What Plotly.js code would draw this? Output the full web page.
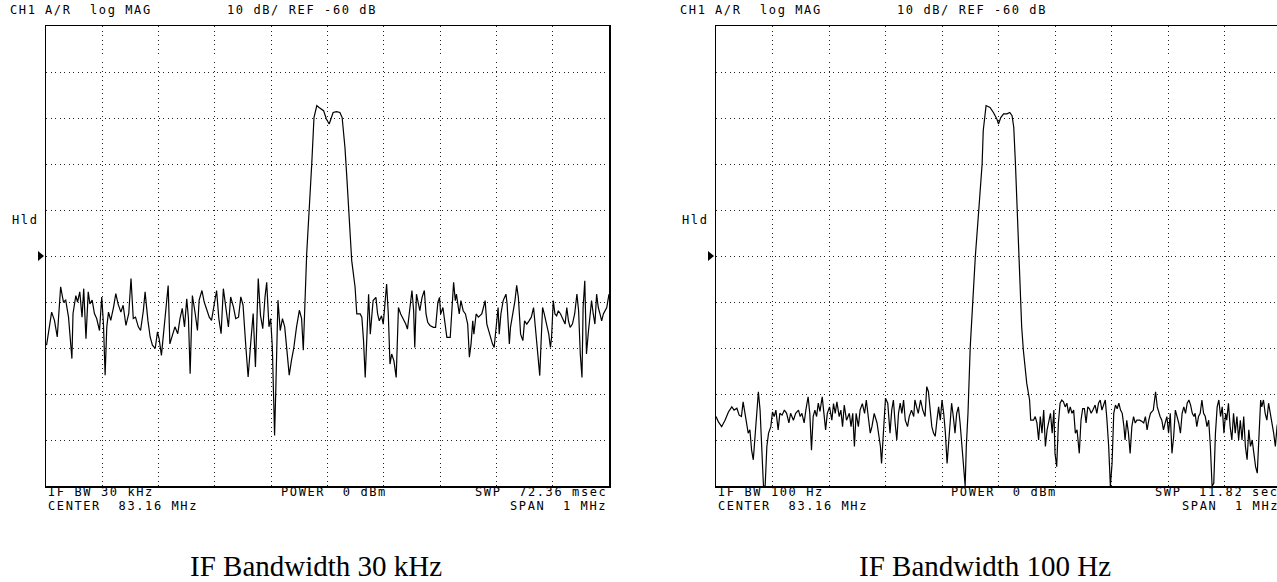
<!DOCTYPE html>
<html>
<head>
<meta charset="utf-8">
<script src="https://cdn.plot.ly/plotly-3.0.1.min.js"></script>
<style>
  html, body { margin: 0; padding: 0; overflow: hidden; background: #fff; }
  #chart { width: 1290px; height: 582px; }
  text.annotation-text[style*="Mono"] { letter-spacing: 1.6px; }
</style>
</head>
<body>
<div id="chart"></div>
<script>
// ---------- data (offset from 83.16 MHz centre, kHz ; magnitude dB) ----------
const freqA = [
  -499,-496,-490,-485,-480,-474,-469,-465,-460,-454,
  -452,-447,-444,-440,-436,-433,-429,-425,-422,-418,
  -414,-410,-405,-401,-398,-395,-392,-389,-385,-380,
  -376,-372,-367,-363,-358,-353,-349,-345,-341,-336,
  -332,-327,-324,-319,-315,-311,-306,-302,-299,-295,
  -291,-287,-283,-280,-276,-271,-266,-262,-258,-254,
  -250,-247,-244,-240,-235,-231,-228,-223,-219,-215,
  -210,-206,-202,-197,-193,-189,-185,-181,-176,-172,
  -167,-163,-158,-154,-150,-145,-141,-136,-132,-128,
  -123,-119,-115,-111,-108,-104,-101,-98,-94,-92,
  -88,-84,-80,-76,-71,-68,-64,-60,-55,-50,
  -46,-43,-37,-33,-28,-24,-19,-15,-7,-2,
  3,7,10,16,22,26,31,34,37,40,
  43,46,49,52,58,61,64,67,70,73,
  76,79,81,86,89,92,96,99,102,105,
  108,111,114,118,122,126,130,135,139,142,
  147,150,153,155,158,161,164,168,172,175,
  178,182,188,192,196,199,201,205,208,212,
  218,221,224,227,229,234,237,241,245,249,
  252,255,258,260,264,268,271,274,277,280,
  283,286,289,293,296,301,303,305,308,312,
  317,319,323,325,329,333,336,339,343,347,
  350,354,358,362,366,369,372,375,377,379,
  382,385,389,393,396,398,401,404,407,410,
  414,419,422,425,428,431,435,439,443,446,
  449,452,454,457,460,463,466,469,472,475,
  478,481,484,487,490,493,496,500
];
const magA = [
  -79.4,-76.9,-72.2,-74.0,-77.6,-66.7,-70.0,-69.6,-73.3,-82.3,
  -72.5,-68.6,-70.0,-67.8,-73.3,-67.1,-78.0,-67.8,-70.4,-69.6,
  -72.5,-73.6,-76.2,-68.9,-74.7,-85.9,-75.4,-72.2,-74.0,-71.1,
  -68.2,-70.4,-72.2,-70.7,-75.1,-72.5,-64.9,-73.6,-73.3,-75.4,
  -76.2,-71.8,-67.8,-74.0,-77.6,-79.4,-80.1,-76.5,-78.0,-81.6,
  -76.2,-70.7,-66.4,-79.1,-77.6,-75.4,-76.9,-73.6,-71.4,-75.4,
  -69.3,-73.6,-85.6,-68.6,-72.5,-76.2,-69.6,-67.5,-70.0,-71.4,
  -73.3,-74.0,-71.4,-67.5,-73.6,-76.9,-67.1,-70.7,-75.4,-68.9,
  -71.1,-73.6,-73.3,-68.9,-70.7,-79.8,-86.3,-78.3,-72.5,-84.1,
  -64.9,-72.9,-75.8,-68.9,-65.7,-75.4,-73.6,-79.8,-99.0,-89.9,
  -69.6,-76.2,-73.6,-75.4,-82.0,-85.9,-82.7,-80.1,-75.4,-71.8,
  -73.6,-80.5,-59.6,-49.4,-40.0,-29.9,-27.3,-27.7,-28.4,-30.2,
  -31.3,-29.9,-28.8,-28.6,-28.8,-29.9,-36.4,-42.2,-48.0,-53.8,
  -61.0,-63.9,-66.8,-72.6,-72.6,-73.3,-78.4,-86.4,-75.5,-68.3,
  -77.0,-71.2,-69.7,-69.0,-72.6,-74.1,-73.0,-74.8,-70.4,-66.1,
  -72.6,-83.5,-81.3,-82.8,-86.4,-71.2,-72.6,-73.7,-74.8,-75.9,
  -71.2,-67.5,-71.9,-79.9,-68.3,-70.4,-71.9,-69.0,-67.5,-72.6,
  -74.4,-75.1,-75.5,-75.5,-70.1,-69.0,-72.6,-71.2,-74.1,-77.7,
  -77.7,-72.6,-65.7,-69.7,-68.3,-72.6,-69.7,-71.9,-72.6,-74.8,
  -82.0,-79.1,-74.1,-77.0,-72.6,-73.3,-73.0,-72.6,-71.2,-69.7,
  -74.8,-76.2,-77.7,-79.1,-79.9,-72.6,-71.2,-77.0,-72.6,-69.7,
  -68.3,-70.4,-79.1,-75.5,-72.6,-69.7,-66.4,-69.0,-77.0,-78.4,
  -74.1,-74.8,-74.1,-73.3,-71.2,-75.5,-79.9,-84.2,-86.0,-79.9,
  -71.2,-72.6,-74.8,-77.0,-79.9,-77.7,-69.7,-72.6,-73.0,-71.9,
  -72.6,-74.1,-74.8,-71.2,-74.1,-75.5,-74.8,-72.6,-68.3,-71.9,
  -81.3,-86.4,-71.2,-65.4,-81.3,-77.0,-72.6,-69.7,-72.6,-74.8,
  -68.3,-71.2,-72.6,-74.1,-72.6,-71.9,-71.2,-68.3
];
const freqB = [
  -500,-496,-490,-484,-478,-472,-468,-463,-459,-455,
  -452,-449,-446,-443,-440,-437,-434,-431,-428,-425,
  -422,-419,-416,-413,-410,-407,-403,-400,-397,-394,
  -390,-387,-383,-379,-375,-371,-368,-363,-359,-354,
  -351,-348,-344,-341,-337,-334,-331,-328,-325,-322,
  -319,-316,-312,-309,-306,-303,-299,-295,-292,-289,
  -286,-282,-279,-276,-273,-269,-264,-261,-258,-255,
  -252,-248,-245,-241,-237,-234,-230,-227,-224,-220,
  -215,-212,-209,-207,-204,-200,-196,-192,-189,-186,
  -183,-180,-177,-174,-171,-168,-165,-161,-158,-154,
  -150,-148,-145,-142,-138,-134,-130,-127,-124,-121,
  -118,-115,-112,-109,-106,-103,-100,-97,-94,-91,
  -89,-86,-83,-80,-77,-74,-71,-68,-65,-62,
  -59,-57,-54,-50,-45,-41,-35,-29,-27,-23,
  -22,-15,-9,-3,0,4,9,15,20,24,
  27,30,33,36,38,41,44,47,50,55,
  57,62,65,68,71,74,77,80,83,86,
  89,92,95,98,100,103,106,109,112,115,
  118,121,124,127,130,133,136,139,143,146,
  149,152,155,158,161,164,167,171,174,177,
  180,183,186,189,192,195,198,201,204,207,
  210,213,216,219,222,224,227,230,233,236,
  239,242,245,250,254,257,260,263,266,269,
  274,278,281,284,286,289,292,295,298,301,
  304,307,310,313,316,319,322,325,328,331,
  334,337,340,343,346,348,351,354,357,360,
  363,366,369,372,375,378,381,384,387,390,
  393,396,399,402,404,407,410,413,416,419,
  422,425,428,431,434,437,440,443,446,449,
  452,455,458,461,464,466,469,472,475,478,
  481,484,487,490,493,496,500
];
const magB = [
  -94.9,-96.0,-97.1,-95.7,-93.9,-92.8,-93.5,-93.1,-94.6,-94.9,
  -91.7,-94.2,-97.1,-98.5,-97.8,-102.2,-104.3,-99.3,-94.2,-89.5,
  -93.5,-101.4,-110,-110,-101.4,-98.5,-97.1,-93.9,-94.9,-93.5,
  -97.8,-94.2,-94.6,-93.5,-94.2,-96.3,-94.2,-95.7,-94.2,-93.5,
  -94.9,-94.2,-96.3,-93.5,-90.6,-94.2,-102.2,-94.9,-93.5,-94.9,
  -92.0,-93.8,-90.6,-94.2,-97.8,-94.2,-92.8,-95.7,-92.1,-94.2,
  -91.7,-94.9,-93.5,-97.1,-92.4,-95.7,-94.2,-97.1,-94.2,-101.4,
  -94.2,-97.1,-93.5,-92.1,-94.2,-91.3,-94.9,-98.5,-97.1,-94.2,
  -96.3,-98.5,-101.4,-105.1,-97.8,-90.9,-92.0,-98.5,-93.5,-91.3,
  -96.3,-100.0,-94.2,-92.0,-94.2,-91.3,-95.7,-97.1,-94.9,-93.5,
  -94.9,-91.3,-92.8,-94.2,-91.3,-93.5,-94.9,-88.4,-89.5,-94.2,
  -97.1,-98.5,-99.2,-95.7,-92.8,-95.7,-91.3,-94.2,-98.5,-105.1,
  -101.4,-97.1,-92.0,-94.9,-98.5,-94.2,-92.8,-96.3,-101.4,-105.8,
  -110,-101.4,-94.2,-79.7,-68.9,-60.1,-50.1,-40.0,-32.7,-27.7,
  -27.3,-27.7,-28.8,-30.2,-31.3,-29.9,-29.1,-29.1,-28.8,-29.5,
  -32.0,-40.0,-49.4,-58.1,-68.2,-75.4,-80.5,-84.1,-87.7,-91.3,
  -95.7,-95.7,-94.9,-96.3,-100.0,-94.9,-98.5,-93.5,-101.4,-97.8,
  -96.3,-94.2,-98.5,-93.5,-102.9,-105.8,-96.3,-92.0,-91.3,-91.7,
  -92.8,-92.0,-94.2,-92.8,-94.2,-93.5,-98.5,-97.8,-102.9,-95.7,
  -93.2,-93.2,-96.3,-92.8,-93.2,-94.2,-93.5,-92.4,-94.2,-92.0,
  -91.3,-93.5,-92.4,-91.3,-95.7,-101.4,-110,-105.1,-94.2,-92.4,
  -93.2,-92.0,-93.5,-94.2,-97.1,-100.0,-95.7,-98.5,-102.9,-97.1,
  -94.9,-96.3,-95.7,-95.7,-96.0,-96.3,-94.9,-97.8,-95.7,-94.2,
  -93.5,-89.5,-92.8,-94.2,-94.9,-95.7,-97.8,-96.3,-94.9,-98.5,
  -94.2,-102.9,-99.3,-93.5,-94.9,-96.3,-98.5,-94.2,-92.8,-94.2,
  -92.0,-91.3,-92.4,-94.2,-94.9,-94.2,-97.1,-94.9,-94.2,-91.3,
  -94.2,-94.9,-97.1,-95.7,-101.4,-110,-109.4,-98.5,-92.8,-91.3,
  -94.9,-92.8,-98.5,-94.2,-95.7,-92.0,-97.1,-100.0,-94.2,-98.5,
  -94.9,-100.0,-95.7,-100.0,-94.9,-101.4,-104.3,-97.8,-101.4,-100.0,
  -102.9,-105.8,-107.2,-100.0,-91.3,-92.8,-91.3,-94.2,-95.7,-92.0,
  -94.2,-95.7,-98.5,-101.4,-97.1,-95.0,-96.0
];
if (freqA.length !== magA.length) throw new Error('A lengths ' + freqA.length + ' vs ' + magA.length);
if (freqB.length !== magB.length) throw new Error('B lengths ' + freqB.length + ' vs ' + magB.length);

// ---------- annotation text ----------
const headerWords = ['CH1', 'A/R', 'log MAG'];
const headerScale = '10 dB/ REF -60 dB';
const holdLabel = 'Hld';
const bwLabels = ['IF BW 30 kHz', 'IF BW 100 Hz'];
const centerLabel = 'CENTER  83.16 MHz';
const powerLabel = 'POWER  0 dBm';
const sweepLabels = ['SWP  72.36 msec', 'SWP  11.82 sec'];
const spanLabel = 'SPAN  1 MHz';
const captions = ['IF Bandwidth 30 kHz', 'IF Bandwidth 100 Hz'];

// ---------- layout helpers ----------
const W = 1290, H = 582;
const px = x => x / W;
const py = y => 1 - y / H;
const MONO = 'DejaVu Sans Mono, monospace';
const SERIF = 'Liberation Serif, Times New Roman, serif';
const monoFont = { family: MONO, size: 12, color: '#000' };

function xAxis(l, r, anchor) {
  return {
    domain: [px(l), px(r)], anchor: anchor, range: [-500, 500],
    tick0: 0, dtick: 100, showgrid: true, gridcolor: '#222', gridwidth: 1,
    griddash: '1px,3.5px', zeroline: false, showticklabels: false, ticks: '',
    showline: true, mirror: true, linecolor: '#000', linewidth: 1.5, fixedrange: true
  };
}
function yAxis(anchor) {
  return {
    domain: [py(486), py(26)], anchor: anchor, range: [-110, -10],
    tick0: -60, dtick: 10, showgrid: true, gridcolor: '#222', gridwidth: 1,
    griddash: '1px,3.5px', zeroline: false, showticklabels: false, ticks: '',
    showline: true, mirror: true, linecolor: '#000', linewidth: 1.5, fixedrange: true
  };
}

const annotations = [];
function txt(t, x, y, anchor, font) {
  annotations.push({
    text: t, x: px(x), y: py(y), xref: 'paper', yref: 'paper',
    xanchor: anchor || 'left', yanchor: 'middle', showarrow: false,
    font: font || monoFont
  });
}
const shapes = [];

const panels = [
  { off: 0, left: 46, right: 609, cap: 316 },
  { off: 670, left: 716, right: 1281, cap: 985 }
];
panels.forEach((p, i) => {
  const o = p.off;
  txt(headerWords[0], 8 + o, 10);
  txt(headerWords[1], 43 + o, 10);
  txt(headerWords[2], 88 + o, 10);
  txt(headerScale, 225 + o, 10);
  txt(holdLabel, 10 + o, 220);
  txt(bwLabels[i], p.left, 492);
  txt(centerLabel, p.left, 506);
  txt(powerLabel, 279 + o, 492);
  txt(sweepLabels[i], p.right, 492, 'right');
  txt(spanLabel, p.right, 506, 'right');
  txt(captions[i], p.cap, 566, 'center', { family: SERIF, size: 29, color: '#000' });
  shapes.push({
    type: 'path', xref: 'paper', yref: 'paper',
    path: `M ${px(38 + o)},${py(251)} L ${px(38 + o)},${py(261)} L ${px(44 + o)},${py(256)} Z`,
    fillcolor: '#000', line: { width: 0 }
  });
});

const traces = [
  { x: freqA, y: magA, xaxis: 'x', yaxis: 'y', type: 'scatter', mode: 'lines',
    line: { color: '#000', width: 1.2 }, hoverinfo: 'skip' },
  { x: freqB, y: magB, xaxis: 'x2', yaxis: 'y2', type: 'scatter', mode: 'lines',
    line: { color: '#000', width: 1.2 }, hoverinfo: 'skip' }
];

const layout = {
  width: W, height: H,
  margin: { l: 0, r: 0, t: 0, b: 0 },
  paper_bgcolor: '#fff', plot_bgcolor: '#fff',
  showlegend: false, hovermode: false,
  xaxis: xAxis(46, 609, 'y'),
  yaxis: yAxis('x'),
  xaxis2: xAxis(716, 1281, 'y2'),
  yaxis2: yAxis('x2'),
  annotations: annotations,
  shapes: shapes
};

Plotly.newPlot('chart', traces, layout, { staticPlot: true, displayModeBar: false });
</script>
</body>
</html>
